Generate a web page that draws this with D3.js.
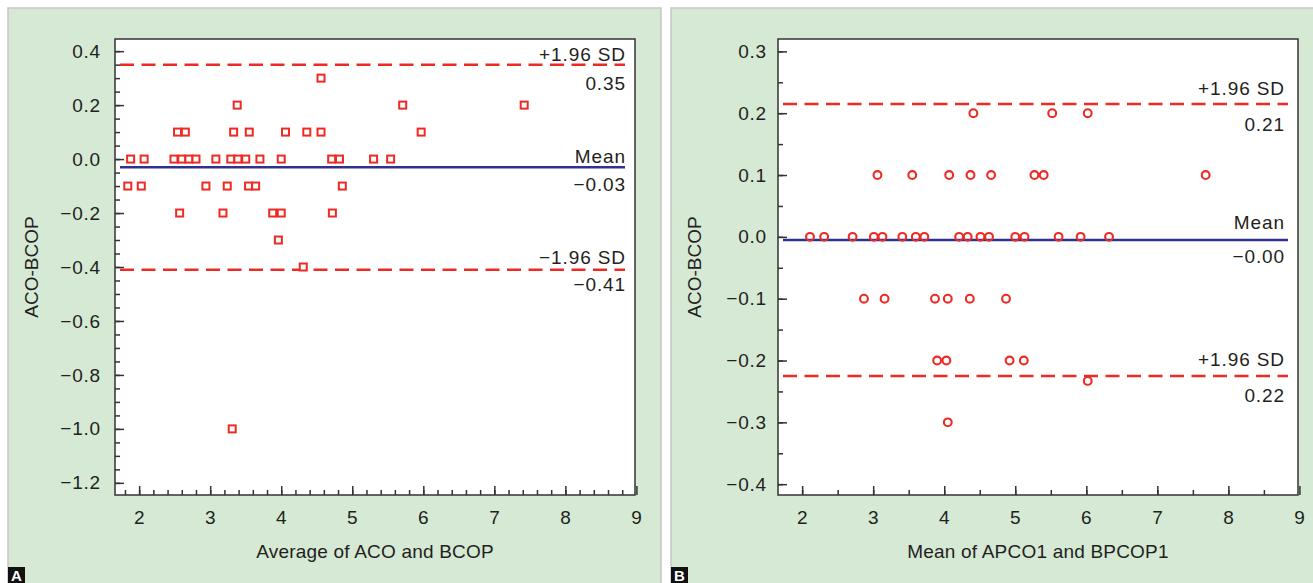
<!DOCTYPE html>
<html>
<head>
<meta charset="utf-8">
<script src="https://cdn.jsdelivr.net/npm/d3@7"></script>
<style>
  body { margin: 0; background: #fff; }
  svg text { font-family: "Liberation Sans", Arial, Helvetica, sans-serif; fill: #231f20; }
</style>
</head>
<body>
<svg id="chart" width="1313" height="583"></svg>
<script>
// ---- panel A: ACO vs BCOP ----
var aAvg  = [1.88, 2.07, 2.49, 2.60, 2.70, 2.80, 3.08, 3.29, 3.39, 3.50, 3.70, 4.00, 4.71, 4.82, 5.30, 5.54,
             2.54, 2.65, 3.33, 3.55, 4.06, 4.36, 4.56, 5.97,
             3.38, 5.71, 7.42,
             4.56,
             1.84, 2.03, 2.94, 3.24, 3.54, 3.64, 4.86,
             2.57, 3.18, 3.88, 4.00, 4.72,
             3.96, 4.31, 3.31];
var aDiff = [0, 0, 0, 0, 0, 0, 0, 0, 0, 0, 0, 0, 0, 0, 0, 0,
             0.1, 0.1, 0.1, 0.1, 0.1, 0.1, 0.1, 0.1,
             0.2, 0.2, 0.2,
             0.3,
             -0.1, -0.1, -0.1, -0.1, -0.1, -0.1, -0.1,
             -0.2, -0.2, -0.2, -0.2, -0.2,
             -0.3, -0.4, -1.0];
var aLines      = [0.35, -0.03, -0.41];
var aLineNames  = ["+1.96 SD", "Mean", "\u22121.96 SD"];
var aLineValues = ["0.35", "\u22120.03", "\u22120.41"];
var aYTicks = [0.4, 0.2, 0.0, -0.2, -0.4, -0.6, -0.8, -1.0, -1.2];

// ---- panel B: APCO1 vs BPCOP1 ----
var bMean = [4.41, 5.52, 6.02,
             3.06, 3.55, 4.07, 4.37, 4.66, 5.27, 5.40, 7.68,
             2.11, 2.31, 2.71, 3.01, 3.13, 3.41, 3.60, 3.72, 4.21, 4.33, 4.51, 4.63, 5.00, 5.13, 5.61, 5.92, 6.32,
             2.87, 3.16, 3.87, 4.05, 4.36, 4.87,
             3.90, 4.03, 4.92, 5.12,
             6.02, 4.05];
var bDiff = [0.2, 0.2, 0.2,
             0.1, 0.1, 0.1, 0.1, 0.1, 0.1, 0.1, 0.1,
             0, 0, 0, 0, 0, 0, 0, 0, 0, 0, 0, 0, 0, 0, 0, 0, 0,
             -0.1, -0.1, -0.1, -0.1, -0.1, -0.1,
             -0.2, -0.2, -0.2, -0.2,
             -0.233, -0.3];
var bLines      = [0.215, -0.005, -0.225];
var bLineNames  = ["+1.96 SD", "Mean", "+1.96 SD"];
var bLineValues = ["0.21", "\u22120.00", "0.22"];
var bYTicks = [0.3, 0.2, 0.1, 0.0, -0.1, -0.2, -0.3, -0.4];

var xTicks = [2, 3, 4, 5, 6, 7, 8, 9];

var RED = "#ee2a24", NAVY = "#2e3192", INK = "#333";
var svg = d3.select("#chart");

function drawPanel(p) {
  var g = svg.append("g");

  // panel background
  g.append("rect")
    .attr("x", p.bg[0]).attr("y", 8).attr("width", p.bg[1] - p.bg[0]).attr("height", 600)
    .attr("fill", "#d6e9d5").attr("stroke", "#c6c6c6").attr("stroke-width", 1.5);

  var x = d3.scaleLinear().domain([1.66, 8.98]).range([p.left, p.right]);
  var y = d3.scaleLinear().domain(p.yDomain).range([495, 39]);

  g.append("rect")
    .attr("x", p.left).attr("y", 39).attr("width", p.right - p.left).attr("height", 456)
    .attr("fill", "#fff");

  var fmt = d3.format(".1f");

  // minor ticks
  g.append("g").attr("transform", "translate(" + p.left + ",0)")
    .call(d3.axisLeft(y).tickValues(p.yMinor).tickSizeInner(-5).tickSizeOuter(0).tickFormat(""));
  g.append("g").attr("transform", "translate(0,495)")
    .call(d3.axisBottom(x).tickValues(p.xMinor).tickSizeInner(-5).tickSizeOuter(0).tickFormat(""));

  // major ticks
  g.append("g").attr("transform", "translate(" + p.left + ",0)")
    .call(d3.axisLeft(y).tickValues(p.yTicks).tickSizeInner(-9).tickSizeOuter(0).tickPadding(p.yPad).tickFormat(fmt));
  g.append("g").attr("transform", "translate(0,495)")
    .call(d3.axisBottom(x).tickValues(xTicks).tickSizeInner(-9).tickSizeOuter(0).tickPadding(16).tickFormat(d3.format("d")));

  g.selectAll(".domain").remove();
  g.selectAll(".tick line").attr("stroke", INK).attr("stroke-width", 1.5);
  g.selectAll(".tick text").attr("font-size", 19).attr("fill", "#231f20")
    .style("letter-spacing", "0.8px")
    .style("font-family", "'Liberation Sans', Arial, sans-serif");

  // limit lines
  p.lines.forEach(function (v, i) {
    g.append("line")
      .attr("x1", p.left + 5).attr("x2", p.right - 10)
      .attr("y1", y(v)).attr("y2", y(v))
      .attr("stroke", i === 1 ? NAVY : RED)
      .attr("stroke-width", 2.5)
      .attr("stroke-dasharray", i === 1 ? null : "14,7.5");
    g.append("text")
      .attr("x", p.right - p.labelInset).attr("y", y(v) + p.above[i])
      .attr("text-anchor", "end").attr("font-size", 19)
      .style("letter-spacing", "0.9px")
      .text(p.names[i]);
    g.append("text")
      .attr("x", p.right - p.labelInset).attr("y", y(v) + p.below[i])
      .attr("text-anchor", "end").attr("font-size", 19)
      .style("letter-spacing", "0.9px")
      .text(p.values[i]);
  });

  // points
  var pts = p.xs.map(function (d, i) { return [d, p.ys[i]]; });
  if (p.square) {
    g.selectAll("rect.pt").data(pts).enter().append("rect").attr("class", "pt")
      .attr("x", function (d) { return x(d[0]) - 3.5; })
      .attr("y", function (d) { return y(d[1]) - 3.5; })
      .attr("width", 7).attr("height", 7)
      .attr("fill", "#fff").attr("stroke", RED).attr("stroke-width", 2);
  } else {
    g.selectAll("circle.pt").data(pts).enter().append("circle").attr("class", "pt")
      .attr("cx", function (d) { return x(d[0]); })
      .attr("cy", function (d) { return y(d[1]); })
      .attr("r", 3.9)
      .attr("fill", "none").attr("stroke", RED).attr("stroke-width", 2.1);
  }

  // frame
  g.append("rect")
    .attr("x", p.left).attr("y", 39).attr("width", p.right - p.left).attr("height", 456)
    .attr("fill", "none").attr("stroke", INK).attr("stroke-width", 1.5);

  // axis titles
  g.append("text")
    .attr("x", (p.left + p.right) / 2).attr("y", 558)
    .attr("text-anchor", "middle").attr("font-size", 19)
    .style("letter-spacing", "0.2px")
    .text(p.xTitle);
  g.append("text")
    .attr("transform", "translate(" + p.yTitleX + ",267) rotate(-90)")
    .attr("text-anchor", "middle").attr("font-size", 19)
    .text("ACO-BCOP");

  // panel letter
  g.append("rect").attr("x", p.bg[0]).attr("y", 567).attr("width", 17).attr("height", 16).attr("fill", "#111");
  g.append("text")
    .attr("x", p.bg[0] + 8.5).attr("y", 581)
    .attr("text-anchor", "middle").attr("font-size", 15).attr("font-weight", "bold")
    .style("fill", "#fff")
    .text(p.letter);
}

drawPanel({
  bg: [8, 661], left: 115, right: 635,
  yDomain: [-1.245, 0.445],
  yTicks: aYTicks, yPad: 14,
  yMinor: d3.range(-24, 9).map(function (k) { return k * 0.05; }),
  xMinor: d3.range(9, 45).map(function (k) { return k * 0.2; }),
  xs: aAvg, ys: aDiff, square: true,
  lines: aLines, names: aLineNames, values: aLineValues,
  labelInset: 9, above: [-4, -4, -6], below: [25, 24, 21],
  xTitle: "Average of ACO and BCOP", yTitleX: 38, letter: "A"
});

drawPanel({
  bg: [671, 1320], left: 778, right: 1298,
  yDomain: [-0.4175, 0.32],
  yTicks: bYTicks, yPad: 11,
  yMinor: d3.range(-8, 7).map(function (k) { return k * 0.05; }),
  xMinor: d3.range(4, 18).map(function (k) { return k * 0.5; }),
  xs: bMean, ys: bDiff, square: false,
  lines: bLines, names: bLineNames, values: bLineValues,
  labelInset: 13, above: [-9, -11, -10], below: [27, 23, 26],
  xTitle: "Mean of APCO1 and BPCOP1", yTitleX: 701, letter: "B"
});
</script>
</body>
</html>
